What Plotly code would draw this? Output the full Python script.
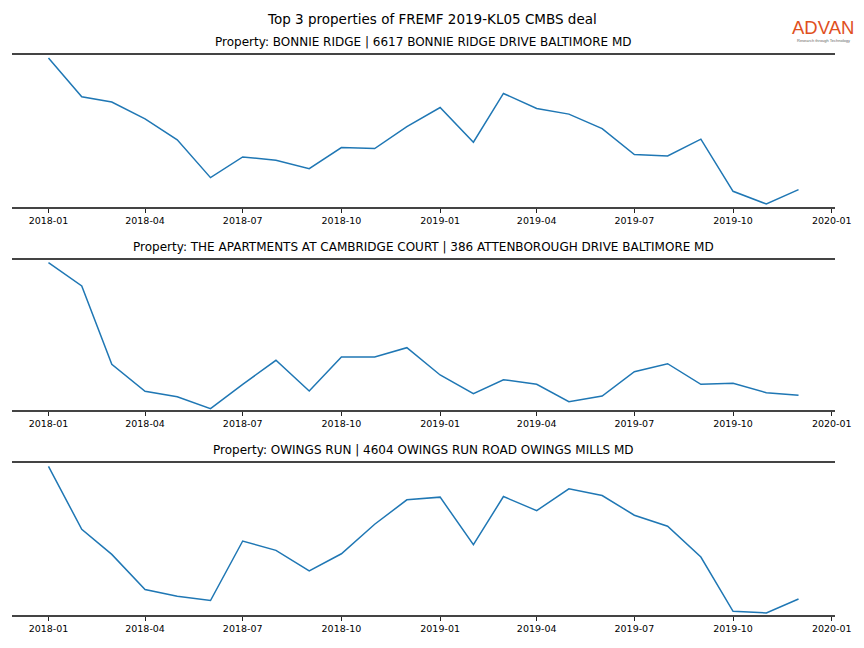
import plotly.graph_objects as go

months = ["2018-01", "2018-02", "2018-03", "2018-04", "2018-05", "2018-06",
          "2018-07", "2018-08", "2018-09", "2018-10", "2018-11", "2018-12",
          "2019-01", "2019-02", "2019-03", "2019-04", "2019-05", "2019-06",
          "2019-07", "2019-08", "2019-09", "2019-10", "2019-11", "2019-12"]

bonnie_ridge = [148.7, 110.0, 104.7, 88.0, 67.0, 29.3, 50.0, 46.7, 38.3, 59.3, 58.3, 80.3,
                99.3, 64.7, 113.3, 98.3, 92.7, 78.3, 52.3, 51.0, 67.7, 15.7, 3.0, 17.3]
cambridge_court = [147.3, 124.0, 45.7, 18.7, 13.3, 1.3, 25.7, 49.7, 19.0, 53.0, 53.0, 62.3,
                   35.0, 16.3, 30.3, 25.7, 8.3, 14.0, 38.3, 46.3, 25.7, 26.7, 17.3, 14.7]
owings_run = [148.0, 85.4, 60.4, 25.4, 18.7, 14.4, 73.7, 64.4, 44.0, 61.0, 90.4, 114.7,
              117.4, 70.0, 118.0, 104.0, 125.7, 119.0, 99.4, 88.4, 57.7, 3.7, 2.0, 16.0]

panel_titles = [
    "Property: BONNIE RIDGE | 6617 BONNIE RIDGE DRIVE BALTIMORE MD",
    "Property: THE APARTMENTS AT CAMBRIDGE COURT | 386 ATTENBOROUGH DRIVE BALTIMORE MD",
    "Property: OWINGS RUN | 4604 OWINGS RUN ROAD OWINGS MILLS MD",
]
main_title = "Top 3 properties of FREMF 2019-KL05 CMBS deal"
series = [bonnie_ridge, cambridge_court, owings_run]
y_ranges = [[0, 151.7], [0, 150.0], [0, 151.4]]

# page renders the figure inside an 8px body margin
W, H, OFF = 848, 648, 8


def px_x(x):
    return (x - OFF) / W


def px_y(y):
    return 1 - (y - OFF) / H


x_dom = [px_x(12), px_x(835)]
panels_px = [(55, 207), (260, 410), (463, 615)]

FONT = "DejaVu Sans"
fig = go.Figure()
layout = dict(
    width=W, height=H,
    margin=dict(l=0, r=0, t=0, b=0),
    paper_bgcolor="white", plot_bgcolor="white",
    showlegend=False,
    font=dict(family=FONT, color="black"),
)
annotations = []
for i, (vals, (top, bot)) in enumerate(zip(series, panels_px)):
    n = "" if i == 0 else str(i + 1)
    fig.add_trace(go.Scatter(x=months, y=vals, mode="lines",
                             line=dict(color="#1f77b4", width=1.5),
                             xaxis="x" + n, yaxis="y" + n))
    layout["xaxis" + n] = dict(
        domain=x_dom, anchor="y" + n, type="date",
        range=["2017-11-28", "2020-01-04"],
        dtick="M3", tick0="2018-01-01", tickformat="%Y-%m",
        showgrid=False, zeroline=False, automargin=False,
        showline=True, mirror=True, linecolor="#444444", linewidth=1.8,
        ticks="outside", ticklen=4, tickwidth=1, tickcolor="#222222",
        tickfont=dict(family=FONT, size=9.5, color="black"),
    )
    layout["yaxis" + n] = dict(
        domain=[px_y(bot), px_y(top)], anchor="x" + n,
        range=y_ranges[i], visible=False, showgrid=False, zeroline=False,
    )
    annotations.append(dict(
        text=panel_titles[i], xref="paper", yref="paper",
        x=sum(x_dom) / 2, y=px_y(top - 13), xanchor="center", yanchor="middle",
        showarrow=False, font=dict(family=FONT, size=12, color="black"),
    ))

annotations.append(dict(
    text=main_title, xref="paper", yref="paper", x=px_x(431.5), y=px_y(19),
    xanchor="center", yanchor="middle", showarrow=False,
    font=dict(family=FONT, size=13.5, color="black"),
))
# logo
annotations.append(dict(
    text="ADVAN", xref="paper", yref="paper", x=px_x(823), y=px_y(27),
    xanchor="center", yanchor="middle", showarrow=False, borderpad=0,
    font=dict(family="Liberation Sans", size=18.5, color="#E0501E"),
))
annotations.append(dict(
    text="Research through Technology", xref="paper", yref="paper", x=px_x(823), y=px_y(40),
    xanchor="center", yanchor="middle", showarrow=False, borderpad=0,
    font=dict(family="Liberation Sans", size=4, color="#666666"),
))
layout["annotations"] = annotations
fig.update_layout(**layout)
fig.write_html("out.html")
